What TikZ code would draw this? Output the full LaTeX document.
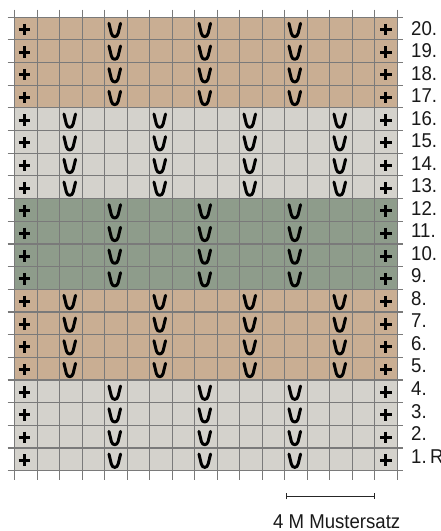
\documentclass[tikz,border=0pt]{standalone}
\usepackage{fontspec}
\setmainfont{Liberation Sans}[FakeStretch=0.93]
\usetikzlibrary{arrows.meta}
\definecolor{tanband}{HTML}{C9AE93}
\definecolor{lgband}{HTML}{D4D2CC}
\definecolor{sageband}{HTML}{8E9C8B}
\definecolor{gridc}{HTML}{7A7A7A}
\tikzset{
  gridline/.style={draw=gridc, line width=1.2pt},
  symline/.style={draw=black, line width=3pt},
  lab/.style={inner sep=0pt, font=\fontsize{20}{20}\selectfont, text=black!90},
  plussym/.pic={\draw[symline] (-5.8,0) -- (5.8,0) (0,-5.8) -- (0,5.8);},
  vsym/.pic={\draw[symline, line cap=round, line join=round]
     (-5.8,-6.8) -- (-3.4,3.2) .. controls (-2.4,7.6) and (2.4,7.6) .. (3.4,3.2) -- (5.8,-6.8);}
}
\begin{document}
\begin{tikzpicture}[x=1pt,y=-1pt]
\useasboundingbox (0,0) rectangle (441,531);
\def\xo{14.7}\def\yo{17.2}\def\cw{22.5}\def\ch{22.67}
% colour bands (top to bottom)
\fill[tanband]  (\xo,\yo) rectangle (\xo+17*\cw,\yo+4*\ch);
\fill[lgband]   (\xo,\yo+4*\ch) rectangle (\xo+17*\cw,\yo+8*\ch);
\fill[sageband] (\xo,\yo+8*\ch) rectangle (\xo+17*\cw,\yo+12*\ch);
\fill[tanband]  (\xo,\yo+12*\ch) rectangle (\xo+17*\cw,\yo+16*\ch);
\fill[lgband]   (\xo,\yo+16*\ch) rectangle (\xo+17*\cw,\yo+20*\ch);
% grid with tick overhangs
\foreach \i in {0,...,17} \draw[gridline] (\xo+\i*\cw,9.5) -- (\xo+\i*\cw,480);
\foreach \j in {0,...,20} \draw[gridline] (7.5,\yo+\j*\ch) -- (403,\yo+\j*\ch);
% symbols
\foreach \r in {1,...,20}{
  \pgfmathsetmacro\yc{\yo+(20-\r)*\ch+\ch/2}
  \pgfmathtruncatemacro\band{int((\r-1)/4)}
  \pic at (\xo+0.5*\cw-1.6,\yc+0.8) {plussym};
  \pic at (\xo+16.5*\cw,\yc+0.8) {plussym};
  \ifodd\band
    \foreach \c in {3,7,11,15} \pic at (\xo+\c*\cw-0.5*\cw-1.2,\yc+1.6) {vsym};
  \else
    \foreach \c in {5,9,13} \pic at (\xo+\c*\cw-0.5*\cw-1.2,\yc+1.6) {vsym};
  \fi
}
% row labels
\foreach \r in {2,...,20}{
  \pgfmathsetmacro\ly{35+(20-\r)*22.53}
  \node[lab, anchor=base west] (l\r) at (411,\ly) {\r.};
}
\node[lab, anchor=base west] (l1) at (411,463.1) {1.\,R};
% scale bar
\coordinate (sa) at (286,496.3);
\coordinate (sb) at (375.3,496.3);
\draw[line width=1.2pt, black!85, {Bar[width=6pt]}-{Bar[width=6pt]}] (sa) -- (sb);
\node[lab, anchor=base] (ms) at (336.7,528) {4 M Mustersatz};
\end{tikzpicture}
\end{document}
